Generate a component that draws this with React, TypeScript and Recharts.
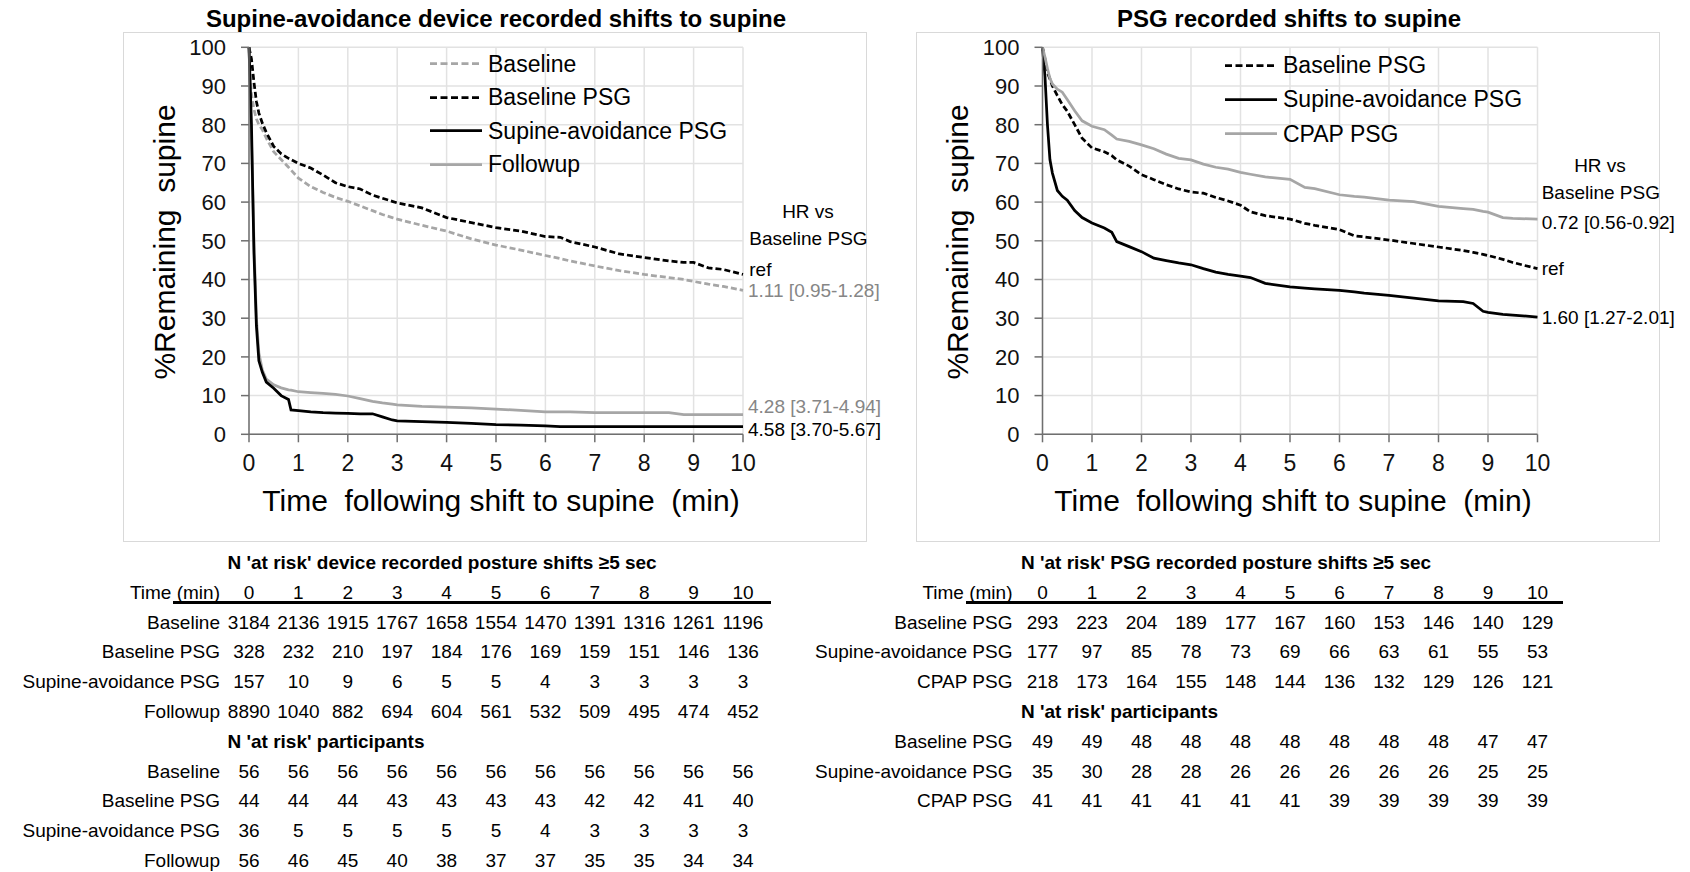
import { LineChart, Line, XAxis, YAxis, CartesianGrid } from 'recharts'

const FONT = "'Liberation Sans', Arial, sans-serif"
const BLACK = '#000000'
const GRAY = '#a6a6a6'
const HR_GRAY = '#868686'

const minuteTicks = [0, 1, 2, 3, 4, 5, 6, 7, 8, 9, 10]
const percentTicks = [0, 10, 20, 30, 40, 50, 60, 70, 80, 90, 100]

// left panel: supine-avoidance device recorded shifts (minutes / % remaining supine)
const deviceTimes = [0, 0.05, 0.1, 0.15, 0.2, 0.27, 0.35, 0.5, 0.65, 0.8, 0.85, 1, 1.25, 1.5, 1.75, 2, 2.25, 2.5, 2.7, 2.9, 3, 3.5, 4, 4.5, 5, 5.5, 6, 6.3, 6.5, 7, 7.5, 8, 8.5, 8.8, 9, 9.3, 9.6, 10]
const deviceBaseline = [100, 88, 84, 81.5, 80, 78.7, 76.5, 73, 71, 69, 68.3, 66.2, 64, 62.5, 61.2, 60.2, 59, 57.8, 56.8, 56, 55.6, 54, 52.5, 50.5, 48.9, 47.6, 46.2, 45.4, 44.8, 43.5, 42.3, 41.3, 40.5, 40, 39.5, 38.8, 38.2, 37.2]
const deviceBaselinePsg = [100, 97, 91, 86, 83, 80.4, 78, 74.4, 72.5, 71.3, 71, 70, 68.8, 67, 65, 64, 63.4, 61.8, 61, 60.2, 59.8, 58.5, 56, 54.7, 53.4, 52.5, 51.1, 50.9, 49.8, 48.4, 46.6, 45.7, 44.8, 44.4, 44.4, 43, 42.6, 41.3]
const deviceSupineAvoidance = [100, 80, 47, 28, 19, 16, 13.5, 11.9, 10, 9, 6.3, 6.1, 5.8, 5.6, 5.5, 5.4, 5.3, 5.3, 4.5, 3.7, 3.5, 3.3, 3.1, 2.8, 2.5, 2.4, 2.2, 2, 2, 2, 2, 2, 2, 2, 2, 2, 2, 2]
const deviceFollowup = [100, 76, 50, 30, 21, 16.6, 14.3, 12.8, 12, 11.5, 11.4, 11, 10.8, 10.6, 10.3, 9.9, 9.2, 8.5, 8.1, 7.8, 7.6, 7.2, 7, 6.8, 6.5, 6.2, 5.8, 5.8, 5.8, 5.6, 5.6, 5.6, 5.6, 5.1, 5.1, 5.1, 5.1, 5.1]

// right panel: PSG recorded shifts
const psgTimes = [0, 0.05, 0.1, 0.15, 0.2, 0.3, 0.4, 0.5, 0.65, 0.8, 1, 1.25, 1.4, 1.5, 1.75, 2, 2.25, 2.5, 2.75, 3, 3.25, 3.5, 3.75, 4, 4.2, 4.5, 5, 5.3, 5.5, 6, 6.3, 6.5, 7, 7.5, 8, 8.5, 8.7, 8.9, 9, 9.3, 9.5, 10]
const psgBaseline = [100, 97, 93.5, 91.8, 90, 87.5, 85.2, 83.5, 80, 76.5, 74, 73, 72, 70.9, 69.3, 67.1, 65.8, 64.5, 63.4, 62.6, 62.3, 61.2, 60.3, 59.2, 57.5, 56.5, 55.6, 54.5, 54, 52.9, 51.3, 51, 50.2, 49.3, 48.4, 47.5, 47, 46.5, 46.2, 45.2, 44.4, 42.8]
const psgSupineAvoidance = [100, 92.5, 80, 71, 67.5, 63, 61.5, 60.5, 57.8, 56, 54.6, 53.3, 52.2, 49.8, 48.5, 47.2, 45.5, 44.9, 44.3, 43.8, 42.8, 41.9, 41.3, 40.9, 40.5, 39, 38.1, 37.8, 37.6, 37.2, 36.8, 36.5, 35.9, 35.2, 34.5, 34.3, 33.8, 31.8, 31.5, 31, 30.8, 30.3]
const psgCpap = [100, 97.5, 94.5, 92, 90.5, 89.2, 88.4, 86.5, 83.6, 81, 79.6, 78.7, 77.3, 76.3, 75.7, 74.8, 73.8, 72.4, 71.3, 70.9, 69.8, 69, 68.5, 67.7, 67.2, 66.5, 65.9, 63.8, 63.5, 61.9, 61.5, 61.3, 60.5, 60.1, 58.9, 58.3, 58.1, 57.6, 57.4, 56, 55.8, 55.6]

// N at risk tables
const deviceShiftsBaseline = [3184, 2136, 1915, 1767, 1658, 1554, 1470, 1391, 1316, 1261, 1196]
const deviceShiftsBaselinePsg = [328, 232, 210, 197, 184, 176, 169, 159, 151, 146, 136]
const deviceShiftsSupineAvoidance = [157, 10, 9, 6, 5, 5, 4, 3, 3, 3, 3]
const deviceShiftsFollowup = [8890, 1040, 882, 694, 604, 561, 532, 509, 495, 474, 452]
const devicePeopleBaseline = [56, 56, 56, 56, 56, 56, 56, 56, 56, 56, 56]
const devicePeopleBaselinePsg = [44, 44, 44, 43, 43, 43, 43, 42, 42, 41, 40]
const devicePeopleSupineAvoidance = [36, 5, 5, 5, 5, 5, 4, 3, 3, 3, 3]
const devicePeopleFollowup = [56, 46, 45, 40, 38, 37, 37, 35, 35, 34, 34]

const psgShiftsBaseline = [293, 223, 204, 189, 177, 167, 160, 153, 146, 140, 129]
const psgShiftsSupineAvoidance = [177, 97, 85, 78, 73, 69, 66, 63, 61, 55, 53]
const psgShiftsCpap = [218, 173, 164, 155, 148, 144, 136, 132, 129, 126, 121]
const psgPeopleBaseline = [49, 49, 48, 48, 48, 48, 48, 48, 48, 47, 47]
const psgPeopleSupineAvoidance = [35, 30, 28, 28, 26, 26, 26, 26, 26, 25, 25]
const psgPeopleCpap = [41, 41, 41, 41, 41, 41, 39, 39, 39, 39, 39]

type Series = { key: string; name: string; values: number[]; color: string; dashed: boolean }

const PLOT_TOP = 47.3
const PLOT_BOTTOM = 434.3

function Txt({ x, y, children, size = 19, weight = 400, color = BLACK, anchor = 'start', rotate = false }: {
    x: number, y: number, children: any, size?: number, weight?: number, color?: string,
    anchor?: 'start' | 'middle' | 'end', rotate?: boolean
}) {
    const tx = anchor === 'middle' ? '-50%' : anchor === 'end' ? '-100%' : '0'
    return (
        <div style={{
            position: 'absolute', left: x, top: y, fontSize: size, fontWeight: weight, color,
            lineHeight: 1, whiteSpace: 'pre',
            transform: `translate(${tx}, -50%)${rotate ? ' rotate(-90deg)' : ''}`
        }}>{children}</div>
    )
}

function KMPanel({ left, width, x0, x1, times, series }: {
    left: number, width: number, x0: number, x1: number, times: number[], series: Series[]
}) {
    const rows = times.map((t, i) => {
        const row: Record<string, number> = { t }
        series.forEach(s => { row[s.key] = s.values[i] })
        return row
    })
    const height = 545
    return (
        <div style={{ position: 'absolute', left, top: 0 }}>
            <LineChart
                width={width}
                height={height}
                data={rows}
                margin={{ top: PLOT_TOP, left: x0 - left - 60, right: width - (x1 - left), bottom: height - PLOT_BOTTOM - 30 }}
            >
                <CartesianGrid stroke="#e2e2e2" strokeWidth={1.5} />
                <XAxis
                    type="number"
                    dataKey="t"
                    domain={[0, 10]}
                    ticks={minuteTicks}
                    interval={0}
                    height={30}
                    tickSize={8}
                    tickMargin={12}
                    stroke="#6f6f6f"
                    strokeWidth={1.5}
                    tick={{ fill: '#111', fontSize: 23, fontFamily: FONT }}
                />
                <YAxis
                    type="number"
                    domain={[0, 100]}
                    ticks={percentTicks}
                    interval={0}
                    width={60}
                    tickSize={8}
                    tickMargin={15}
                    stroke="#6f6f6f"
                    strokeWidth={1.5}
                    tick={{ fill: '#111', fontSize: 22, fontFamily: FONT }}
                />
                {series.map(s => (
                    <Line
                        key={s.key}
                        type="linear"
                        dataKey={s.key}
                        name={s.name}
                        stroke={s.color}
                        strokeWidth={2.75}
                        strokeDasharray={s.dashed ? '6 3' : undefined}
                        dot={false}
                        isAnimationActive={false}
                    />
                ))}
            </LineChart>
        </div>
    )
}

function KMLegend({ x, y0, gap, series }: { x: number, y0: number, gap: number, series: Series[] }) {
    return (
        <>
            {series.map((s, i) => (
                <div key={s.key} style={{ position: 'absolute', left: x, top: y0 + i * gap, transform: 'translateY(-50%)', display: 'flex', alignItems: 'center', whiteSpace: 'pre' }}>
                    <svg width={54} height={6} style={{ marginRight: 4 }}>
                        <line x1={0} y1={3} x2={52} y2={3} stroke={s.color} strokeWidth={2.75} strokeDasharray={s.dashed ? '7 3.5' : undefined} />
                    </svg>
                    <span style={{ fontSize: 23, lineHeight: 1 }}>{s.name}</span>
                </div>
            ))}
        </>
    )
}

function RiskTable({ labelRight, x0, step, top, title, rows, subTitle, subRows, lineX1, lineX2 }: {
    labelRight: number, x0: number, step: number, top: number, title: string,
    rows: [string, number[]][], subTitle: string, subRows: [string, number[]][], lineX1: number, lineX2: number
}) {
    const rowGap = 29.8
    const out: any[] = []
    out.push(<Txt key="title" x={x0 - 21.5} y={top} weight={700}>{title}</Txt>)
    const headY = top + 30
    out.push(<Txt key="head" x={labelRight} y={headY} anchor="end">Time (min)</Txt>)
    minuteTicks.forEach((m, i) => out.push(<Txt key={'h' + i} x={x0 + i * step} y={headY} anchor="middle">{String(m)}</Txt>))
    out.push(<div key="rule" style={{ position: 'absolute', left: lineX1, top: headY + 9.6, width: lineX2 - lineX1, height: 2.5, background: '#000' }} />)
    let y = headY + rowGap
    rows.forEach(([label, vals], r) => {
        out.push(<Txt key={'l' + r} x={labelRight} y={y} anchor="end">{label}</Txt>)
        vals.forEach((v, i) => out.push(<Txt key={'v' + r + '-' + i} x={x0 + i * step} y={y} anchor="middle">{String(v)}</Txt>))
        y += rowGap
    })
    out.push(<Txt key="sub" x={x0 - 21.5} y={y} weight={700}>{subTitle}</Txt>)
    y += rowGap
    subRows.forEach(([label, vals], r) => {
        out.push(<Txt key={'sl' + r} x={labelRight} y={y} anchor="end">{label}</Txt>)
        vals.forEach((v, i) => out.push(<Txt key={'sv' + r + '-' + i} x={x0 + i * step} y={y} anchor="middle">{String(v)}</Txt>))
        y += rowGap
    })
    return <>{out}</>
}

export default function App() {
    const deviceSeries: Series[] = [
        { key: 'baseline', name: 'Baseline', values: deviceBaseline, color: GRAY, dashed: true },
        { key: 'baselinePsg', name: 'Baseline PSG', values: deviceBaselinePsg, color: BLACK, dashed: true },
        { key: 'followup', name: 'Followup', values: deviceFollowup, color: GRAY, dashed: false },
        { key: 'supine', name: 'Supine-avoidance PSG', values: deviceSupineAvoidance, color: BLACK, dashed: false },
    ]
    const deviceLegend = [deviceSeries[0], deviceSeries[1], deviceSeries[3], deviceSeries[2]]
    const psgSeries: Series[] = [
        { key: 'baselinePsg', name: 'Baseline PSG', values: psgBaseline, color: BLACK, dashed: true },
        { key: 'supine', name: 'Supine-avoidance PSG', values: psgSupineAvoidance, color: BLACK, dashed: false },
        { key: 'cpap', name: 'CPAP PSG', values: psgCpap, color: GRAY, dashed: false },
    ]

    const lx0 = 249, lx1 = 743, rx0 = 1042.5, rx1 = 1537.5

    return (
        <div style={{ position: 'absolute', left: 0, top: 0, width: 1690, height: 872, background: '#fff', fontFamily: FONT, overflow: 'hidden' }}>
            <div style={{ position: 'absolute', left: 123, top: 32, width: 744, height: 510, border: '1px solid #d9d9d9', boxSizing: 'border-box' }} />
            <div style={{ position: 'absolute', left: 915.6, top: 32, width: 744, height: 510, border: '1px solid #d9d9d9', boxSizing: 'border-box' }} />

            <KMPanel left={0} width={900} x0={lx0} x1={lx1} times={deviceTimes} series={deviceSeries} />
            <KMPanel left={860} width={830} x0={rx0} x1={rx1} times={psgTimes} series={psgSeries} />

            <Txt x={496} y={19} size={24} weight={700} anchor="middle">Supine-avoidance device recorded shifts to supine</Txt>
            <Txt x={1289} y={19} size={24} weight={700} anchor="middle">PSG recorded shifts to supine</Txt>

            <Txt x={164.5} y={242} size={30} anchor="middle" rotate>{'%Remaining  supine'}</Txt>
            <Txt x={958} y={242} size={30} anchor="middle" rotate>{'%Remaining  supine'}</Txt>
            <Txt x={501} y={501} size={30} anchor="middle">{'Time  following shift to supine  (min)'}</Txt>
            <Txt x={1293} y={501} size={30} anchor="middle">{'Time  following shift to supine  (min)'}</Txt>

            <KMLegend x={430} y0={63.6} gap={33.6} series={deviceLegend} />
            <KMLegend x={1225} y0={65} gap={34.4} series={psgSeries} />

            <Txt x={808} y={210.7} anchor="middle">HR vs</Txt>
            <Txt x={749.3} y={238}>Baseline PSG</Txt>
            <Txt x={749.3} y={269.3}>ref</Txt>
            <Txt x={748} y={290} color={HR_GRAY}>1.11 [0.95-1.28]</Txt>
            <Txt x={748} y={406} color={HR_GRAY}>4.28 [3.71-4.94]</Txt>
            <Txt x={748} y={429.3}>4.58 [3.70-5.67]</Txt>

            <Txt x={1600} y={165} anchor="middle">HR vs</Txt>
            <Txt x={1541.7} y={191.7}>Baseline PSG</Txt>
            <Txt x={1541.7} y={221.7}>0.72 [0.56-0.92]</Txt>
            <Txt x={1541.7} y={268.3}>ref</Txt>
            <Txt x={1541.7} y={316.7}>1.60 [1.27-2.01]</Txt>

            <RiskTable
                labelRight={220} x0={lx0} step={(lx1 - lx0) / 10} top={561.7}
                title={"N 'at risk' device recorded posture shifts \u22655 sec"}
                rows={[
                    ['Baseline', deviceShiftsBaseline],
                    ['Baseline PSG', deviceShiftsBaselinePsg],
                    ['Supine-avoidance PSG', deviceShiftsSupineAvoidance],
                    ['Followup', deviceShiftsFollowup],
                ]}
                subTitle={"N 'at risk' participants"}
                subRows={[
                    ['Baseline', devicePeopleBaseline],
                    ['Baseline PSG', devicePeopleBaselinePsg],
                    ['Supine-avoidance PSG', devicePeopleSupineAvoidance],
                    ['Followup', devicePeopleFollowup],
                ]}
                lineX1={173.3} lineX2={771}
            />
            <RiskTable
                labelRight={1012.5} x0={rx0} step={(rx1 - rx0) / 10} top={561.7}
                title={"N 'at risk' PSG recorded posture shifts \u22655 sec"}
                rows={[
                    ['Baseline PSG', psgShiftsBaseline],
                    ['Supine-avoidance PSG', psgShiftsSupineAvoidance],
                    ['CPAP PSG', psgShiftsCpap],
                ]}
                subTitle={"N 'at risk' participants"}
                subRows={[
                    ['Baseline PSG', psgPeopleBaseline],
                    ['Supine-avoidance PSG', psgPeopleSupineAvoidance],
                    ['CPAP PSG', psgPeopleCpap],
                ]}
                lineX1={966} lineX2={1563}
            />
        </div>
    )
}
